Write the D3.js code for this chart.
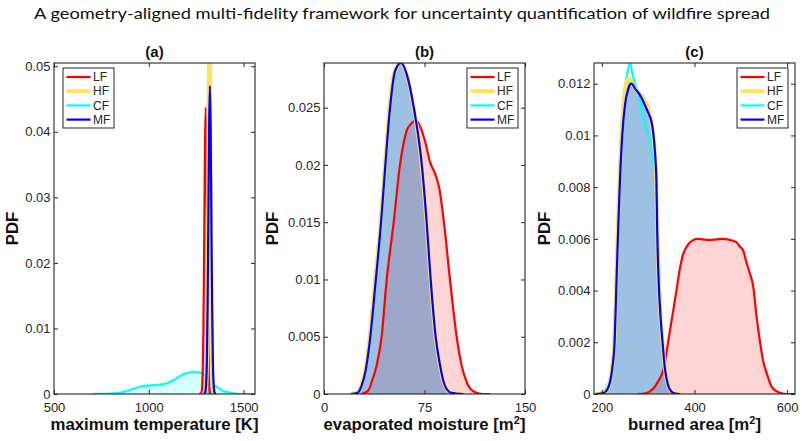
<!DOCTYPE html>
<html>
<head>
<meta charset="utf-8">
<script src="https://cdn.jsdelivr.net/npm/d3@7"></script>
<style>
  body { margin: 0; background: #fff; }
</style>
</head>
<body>
<script>
// ---- text ----
const figTitle = "A geometry-aligned multi-fidelity framework for uncertainty quantification of wildfire spread";
const seriesNames = ["LF", "HF", "CF", "MF"];
const panelTitles = ["(a)", "(b)", "(c)"];

// ---- ticks ----
const aXTicks = [500, 1000, 1500];
const aYTicks = [0, 0.01, 0.02, 0.03, 0.04, 0.05];
const bXTicks = [0, 75, 150];
const bYTicks = [0, 0.005, 0.01, 0.015, 0.02, 0.025];
const cXTicks = [200, 400, 600];
const cYTicks = [0, 0.002, 0.004, 0.006, 0.008, 0.01, 0.012];

// ---- panel (a): maximum temperature [K] vs PDF ----
const aLF = [[1265,0],[1275,0.0001],[1280,0.0007],[1284,0.0032],[1288,0.0100],[1292,0.0227],[1296,0.0372],[1300,0.0437],[1304,0.0372],[1308,0.0227],[1312,0.0100],[1316,0.0032],[1320,0.0007],[1325,0.0001],[1335,0]];
const aHF = [[1290,0],[1300,0.0002],[1304,0.0017],[1308,0.0078],[1312,0.0238],[1316,0.0464],[1320,0.058],[1324,0.0464],[1328,0.0238],[1332,0.0078],[1336,0.0017],[1340,0.0002],[1350,0]];
const aCF = [[704,0],[760,0.00002],[800,0.00005],[850,0.0002],[900,0.0006],[950,0.0011],[990,0.00128],[1030,0.00135],[1076,0.0015],[1130,0.0021],[1180,0.003],[1217,0.0033],[1240,0.0034],[1265,0.0033],[1290,0.003],[1305,0.0025],[1330,0.0017],[1358,0.0011],[1390,0.0005],[1428,0.0002],[1470,0.00003],[1500,0],[1555,0]];
const aMF = [[1290,0],[1297,0.0002],[1302,0.0014],[1306,0.0048],[1310,0.0131],[1314,0.0266],[1318,0.0407],[1322,0.047],[1326,0.0407],[1330,0.0266],[1334,0.0131],[1338,0.0048],[1342,0.0014],[1347,0.0002],[1355,0]];

// ---- panel (b): evaporated moisture [m2] ----
const bLF = [[28,0],[33,0.0003],[36,0.0012],[39.3,0.0025],[43,0.005],[46.8,0.01],[52,0.015],[56.7,0.02],[61.7,0.023],[65,0.0236],[68.7,0.0239],[72,0.0233],[76,0.0218],[79,0.0203],[83,0.0192],[86,0.018],[89.5,0.015],[94,0.01],[99,0.005],[102.7,0.0025],[107,0.0009],[112,0.0002],[118,0],[124,0]];
const bHF = [[20,0],[24.5,0.0001],[27.5,0.0007],[30.5,0.002],[33.8,0.0047],[37.7,0.0095],[42.2,0.015],[45.5,0.02],[48.8,0.025],[52.8,0.0282],[57.3,0.0289],[62,0.0278],[67,0.025],[72.8,0.02],[76.5,0.015],[79.5,0.01],[83.2,0.005],[86.5,0.0025],[90,0.0008],[95,0.0001],[104,0]];
const bCF = [[20,0],[25,0.0001],[28,0.0007],[31,0.002],[34.2,0.0047],[38.2,0.0095],[42.6,0.015],[45.8,0.02],[49.2,0.025],[53,0.0281],[57.5,0.0288],[62,0.0277],[67,0.025],[73,0.02],[76.7,0.015],[79.7,0.01],[83.4,0.005],[86.7,0.0025],[90,0.0008],[95,0.0001],[105,0]];
const bMF = [[20,0],[25,0.0001],[28,0.0007],[31,0.002],[34.3,0.0047],[38.3,0.0095],[42.6,0.015],[45.8,0.02],[49.3,0.025],[53,0.0282],[57.5,0.0289],[62,0.0278],[67,0.025],[73,0.02],[76.6,0.015],[79.6,0.01],[83.3,0.005],[86.6,0.0025],[90,0.0008],[95,0.0001],[104,0]];

// ---- panel (c): burned area [m2] ----
const cLF = [[278,0],[295,0.00003],[310.5,0.0002],[322,0.0005],[333.6,0.001],[343,0.002],[352,0.003],[361,0.004],[368,0.0048],[375.4,0.0054],[383,0.0057],[390,0.00586],[397,0.00595],[404.5,0.006],[418,0.00598],[433,0.00596],[447,0.00598],[462,0.006],[476,0.00596],[491,0.00586],[498,0.0057],[505.4,0.00554],[512,0.0051],[519,0.0047],[527,0.00413],[534,0.003],[541.6,0.002],[548,0.0013],[556,0.0008],[566,0.0003],[577.7,0.0001],[590,0.00002],[600,0],[617,0]];
const cHF = [[186,0],[205,0.00006],[215,0.0003],[222,0.001],[227,0.002],[230.5,0.004],[233.5,0.006],[237.5,0.008],[242.5,0.010],[248,0.0115],[254,0.0121],[260,0.0122],[268,0.0119],[280,0.01165],[290,0.01145],[296,0.01124],[303,0.01086],[308,0.0104],[312,0.0098],[315,0.0091],[318,0.0078],[320,0.006],[323.5,0.004],[327,0.0029],[331,0.002],[336,0.001],[342,0.0004],[350,0.0001],[358,0.00002],[370,0]];
const cCF = [[184,0],[200,0.00006],[212,0.0003],[220.5,0.001],[225.5,0.002],[229.5,0.004],[233,0.006],[237,0.008],[241,0.010],[246,0.0113],[252,0.0121],[257,0.0126],[261.5,0.01278],[266,0.0124],[273,0.0119],[281.7,0.01144],[288,0.0108],[294.6,0.01028],[303.3,0.0099],[307,0.0096],[310.5,0.009],[314,0.0084],[317.8,0.0076],[321.3,0.0063],[324.5,0.0045],[328,0.003],[332,0.002],[337,0.001],[343,0.0004],[352,0.0001],[362,0.00002],[372,0]];
const cMF = [[188,0],[205,0.00005],[215,0.0003],[222.5,0.001],[227.5,0.002],[231,0.004],[234.5,0.006],[238.5,0.008],[244,0.010],[250,0.0112],[257,0.0118],[264,0.0120],[272,0.0118],[282,0.01157],[290,0.0113],[296,0.01105],[302,0.0108],[307,0.01054],[311,0.0101],[314,0.0095],[317.8,0.0082],[319.5,0.0063],[323.5,0.004],[327,0.0029],[331,0.002],[336,0.001],[342,0.0004],[350,0.0001],[358,0.00002],[368,0]];

// styles
const lineColor = {LF: "#ff0000", HF: "#ffe15c", CF: "#00ffff", MF: "#0000ff"};
const lineWidth = {LF: 2.2, HF: 4, CF: 2.2, MF: 2.2};
const axisCol = "#262626";

const panels = [
  {title: panelTitles[0], left: 54, xDomain: [500, 1560], yDomain: [0, 0.0505],
   xTicks: aXTicks, yTicks: aYTicks, xLabel: ["maximum temperature [K]", null],
   series: {LF: aLF, HF: aHF, CF: aCF, MF: aMF},
   fills: [["CF", "#00ffff", 0.16], ["LF", "#ff0000", 0.17], ["HF", "#0060b8", 0.39]],
   legendLeft: true, yLabelX: -36},
  {title: panelTitles[1], left: 324, xDomain: [0, 150], yDomain: [0, 0.0289],
   xTicks: bXTicks, yTicks: bYTicks, xLabel: ["evaporated moisture [m", "2", "]"],
   series: {LF: bLF, HF: bHF, CF: bCF, MF: bMF},
   fills: [["LF", "#ff0000", 0.17], ["HF", "#0060b8", 0.39]],
   legendLeft: false, yLabelX: -46},
  {title: panelTitles[2], left: 594, xDomain: [183, 617], yDomain: [0, 0.0128],
   xTicks: cXTicks, yTicks: cYTicks, xLabel: ["burned area [m", "2", "]"],
   series: {LF: cLF, HF: cHF, CF: cCF, MF: cMF},
   fills: [["LF", "#ff0000", 0.17], ["HF", "#0060b8", 0.39]],
   legendLeft: false, yLabelX: -44}
];

const axTop = 63, w = 201, h = 331;
const drawOrder = ["CF", "LF", "HF", "MF"];

const svg = d3.select("body").append("svg")
  .attr("width", 805)
  .attr("height", 441)
  .style("font-family", "'Liberation Sans', Arial, sans-serif");

//Figure title
svg.append("text")
  .attr("x", 402)
  .attr("y", 19)
  .attr("text-anchor", "middle")
  .attr("font-family", "Lato, 'DejaVu Sans', sans-serif")
  .attr("font-size", 16)
  .attr("fill", "#111")
  .attr("textLength", 736)
  .attr("lengthAdjust", "spacingAndGlyphs")
  .text(figTitle);

const defs = svg.append("defs");

panels.forEach((p, i) => {
  const g = svg.append("g").attr("transform", "translate(" + p.left + "," + axTop + ")");
  const x = d3.scaleLinear().domain(p.xDomain).range([0, w]);
  const y = d3.scaleLinear().domain(p.yDomain).range([h, 0]);

  defs.append("clipPath").attr("id", "clip" + i)
    .append("rect").attr("width", w).attr("height", h);

  const plot = g.append("g").attr("clip-path", "url(#clip" + i + ")");

  //Filled areas under the curves
  const area = d3.area()
    .x(d => x(d[0]))
    .y0(y(0))
    .y1(d => y(d[1]))
    .curve(d3.curveMonotoneX);
  p.fills.forEach(f => {
    plot.append("path")
      .attr("d", area(p.series[f[0]]))
      .attr("fill", f[1])
      .attr("fill-opacity", f[2]);
  });

  //Curves
  const line = d3.line()
    .x(d => x(d[0]))
    .y(d => y(d[1]))
    .curve(d3.curveMonotoneX);
  drawOrder.forEach(s => {
    plot.append("path")
      .attr("d", line(p.series[s]))
      .attr("fill", "none")
      .attr("stroke", lineColor[s])
      .attr("stroke-width", lineWidth[s])
      .attr("stroke-linejoin", "round");
  });

  //Axes, ticks inside like matlab
  const fmt = v => String(v);
  const xb = g.append("g").attr("transform", "translate(0," + h + ")")
    .call(d3.axisBottom(x).tickValues(p.xTicks).tickFormat(fmt).tickSizeInner(-4).tickSizeOuter(0).tickPadding(8.5));
  const yl = g.append("g")
    .call(d3.axisLeft(y).tickValues(p.yTicks).tickFormat(fmt).tickSizeInner(-4).tickSizeOuter(0).tickPadding(3.5));
  const xt = g.append("g")
    .call(d3.axisTop(x).tickValues(p.xTicks).tickFormat("").tickSizeInner(-4).tickSizeOuter(0));
  const yr = g.append("g").attr("transform", "translate(" + w + ",0)")
    .call(d3.axisRight(y).tickValues(p.yTicks).tickFormat("").tickSizeInner(-4).tickSizeOuter(0));
  [xb, yl, xt, yr].forEach(a => {
    a.select(".domain").remove();
    a.selectAll(".tick line").attr("stroke", axisCol);
    a.selectAll(".tick text")
      .attr("fill", axisCol)
      .attr("font-size", 13)
      .attr("font-family", "'Liberation Sans', Arial, sans-serif");
  });

  g.append("rect")
    .attr("width", w)
    .attr("height", h)
    .attr("fill", "none")
    .attr("stroke", axisCol)
    .attr("stroke-width", 1.1);

  //Panel title
  g.append("text")
    .attr("x", w / 2)
    .attr("y", -6)
    .attr("text-anchor", "middle")
    .attr("font-weight", "bold")
    .attr("font-size", 15)
    .attr("fill", "#111")
    .text(p.title);

  //x label with optional superscript
  const xl = g.append("text")
    .attr("x", w / 2)
    .attr("y", 366.5)
    .attr("text-anchor", "middle")
    .attr("font-weight", "bold")
    .attr("font-size", 16.8)
    .attr("fill", "#111");
  xl.append("tspan").text(p.xLabel[0]);
  if (p.xLabel[1]) {
    xl.append("tspan").attr("dy", -5.5).attr("font-size", 11).text(p.xLabel[1]);
    xl.append("tspan").attr("dy", 5.5).text(p.xLabel[2]);
  }

  //y label
  g.append("text")
    .attr("transform", "rotate(-90)")
    .attr("x", -h / 2)
    .attr("y", p.yLabelX)
    .attr("text-anchor", "middle")
    .attr("font-weight", "bold")
    .attr("font-size", 16.8)
    .attr("fill", "#111")
    .text("PDF");

  //Legend
  const lw = 51, lh = 60;
  const lx = p.legendLeft ? 9 : w - 7 - lw;
  const leg = g.append("g").attr("transform", "translate(" + lx + ",5)");
  leg.append("rect")
    .attr("width", lw)
    .attr("height", lh)
    .attr("fill", "#fff")
    .attr("stroke", "#262626")
    .attr("stroke-width", 1);
  seriesNames.forEach((s, k) => {
    const yy = 9 + k * 14.2;
    leg.append("line")
      .attr("x1", 3.5).attr("x2", 27.5)
      .attr("y1", yy).attr("y2", yy)
      .attr("stroke", lineColor[s])
      .attr("stroke-width", s === "HF" ? 4 : 2.2);
    leg.append("text")
      .attr("x", 30)
      .attr("y", yy + 4.2)
      .attr("font-size", 12)
      .attr("fill", "#262626")
      .text(s);
  });
});
</script>
</body>
</html>
